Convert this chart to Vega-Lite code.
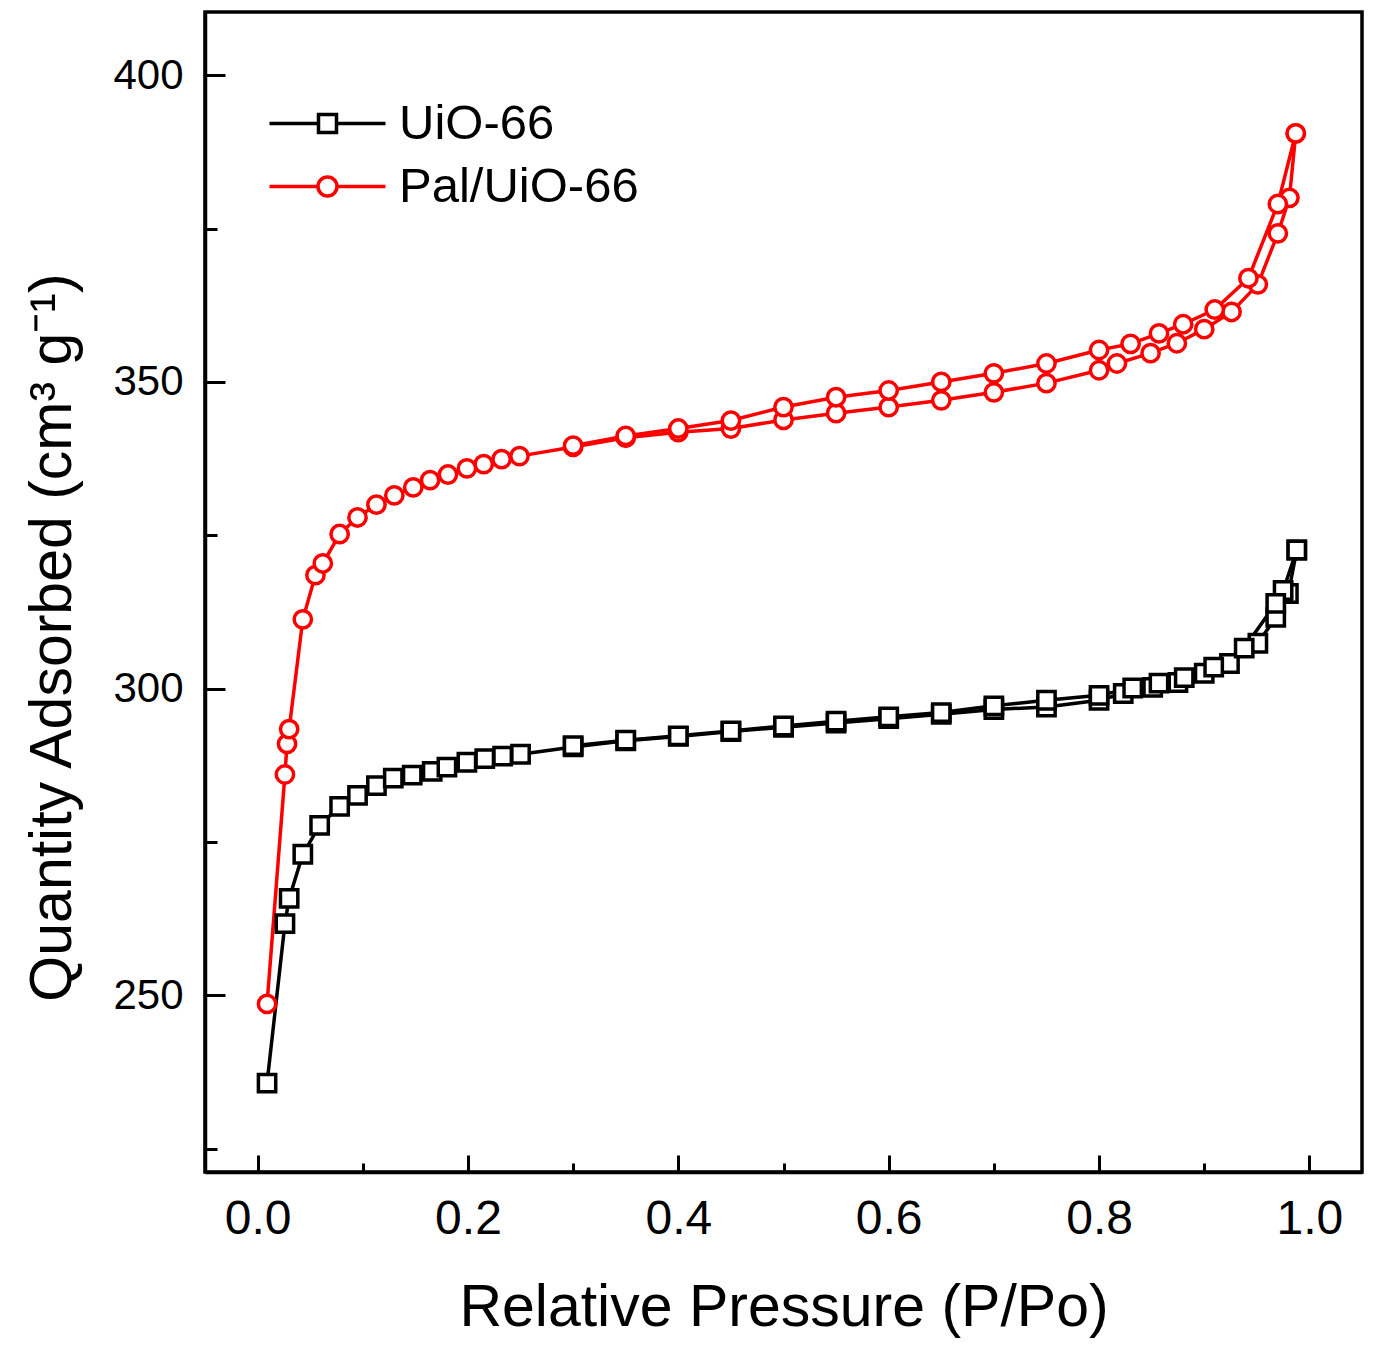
{
  "$schema": "https://vega.github.io/schema/vega-lite/v6.json",
  "width": 1157,
  "height": 1160,
  "autosize": {"type": "none"},
  "padding": {"left": 205, "top": 12, "right": 16, "bottom": 175},
  "background": "white",
  "config": {
    "font": "Liberation Sans",
    "view": {"stroke": "black", "strokeWidth": 3.5},
    "axis": {
      "grid": false,
      "domainColor": "black",
      "domainWidth": 3.5,
      "tickColor": "black",
      "tickWidth": 3,
      "labelColor": "black",
      "titleColor": "black",
      "labelFont": "Liberation Sans",
      "titleFont": "Liberation Sans",
      "titleFontWeight": "normal"
    }
  },
  "data": {
    "values": [
      {"sample": "UiO-66", "branch": "ads", "p": 0.009, "q": 235.7},
      {"sample": "UiO-66", "branch": "ads", "p": 0.026, "q": 261.7},
      {"sample": "UiO-66", "branch": "ads", "p": 0.030, "q": 265.8},
      {"sample": "UiO-66", "branch": "ads", "p": 0.043, "q": 273.0},
      {"sample": "UiO-66", "branch": "ads", "p": 0.059, "q": 277.7},
      {"sample": "UiO-66", "branch": "ads", "p": 0.078, "q": 280.8},
      {"sample": "UiO-66", "branch": "ads", "p": 0.095, "q": 282.6},
      {"sample": "UiO-66", "branch": "ads", "p": 0.113, "q": 284.2},
      {"sample": "UiO-66", "branch": "ads", "p": 0.129, "q": 285.4},
      {"sample": "UiO-66", "branch": "ads", "p": 0.147, "q": 285.9},
      {"sample": "UiO-66", "branch": "ads", "p": 0.166, "q": 286.5},
      {"sample": "UiO-66", "branch": "ads", "p": 0.180, "q": 287.2},
      {"sample": "UiO-66", "branch": "ads", "p": 0.199, "q": 288.0},
      {"sample": "UiO-66", "branch": "ads", "p": 0.216, "q": 288.6},
      {"sample": "UiO-66", "branch": "ads", "p": 0.233, "q": 289.0},
      {"sample": "UiO-66", "branch": "ads", "p": 0.250, "q": 289.3},
      {"sample": "UiO-66", "branch": "ads", "p": 0.300, "q": 290.5},
      {"sample": "UiO-66", "branch": "ads", "p": 0.350, "q": 291.5},
      {"sample": "UiO-66", "branch": "ads", "p": 0.400, "q": 292.2},
      {"sample": "UiO-66", "branch": "ads", "p": 0.450, "q": 293.0},
      {"sample": "UiO-66", "branch": "ads", "p": 0.500, "q": 293.7},
      {"sample": "UiO-66", "branch": "ads", "p": 0.550, "q": 294.4},
      {"sample": "UiO-66", "branch": "ads", "p": 0.600, "q": 295.1},
      {"sample": "UiO-66", "branch": "ads", "p": 0.650, "q": 295.8},
      {"sample": "UiO-66", "branch": "ads", "p": 0.700, "q": 296.6},
      {"sample": "UiO-66", "branch": "ads", "p": 0.750, "q": 297.0},
      {"sample": "UiO-66", "branch": "ads", "p": 0.800, "q": 298.1},
      {"sample": "UiO-66", "branch": "ads", "p": 0.823, "q": 299.2},
      {"sample": "UiO-66", "branch": "ads", "p": 0.851, "q": 300.2},
      {"sample": "UiO-66", "branch": "ads", "p": 0.875, "q": 301.0},
      {"sample": "UiO-66", "branch": "ads", "p": 0.900, "q": 302.5},
      {"sample": "UiO-66", "branch": "ads", "p": 0.924, "q": 304.1},
      {"sample": "UiO-66", "branch": "ads", "p": 0.951, "q": 307.4},
      {"sample": "UiO-66", "branch": "ads", "p": 0.968, "q": 311.6},
      {"sample": "UiO-66", "branch": "ads", "p": 0.980, "q": 315.5},
      {"sample": "UiO-66", "branch": "ads", "p": 0.988, "q": 322.6},
      {"sample": "UiO-66", "branch": "des", "p": 0.988, "q": 322.6},
      {"sample": "UiO-66", "branch": "des", "p": 0.975, "q": 316.0},
      {"sample": "UiO-66", "branch": "des", "p": 0.968, "q": 313.9},
      {"sample": "UiO-66", "branch": "des", "p": 0.938, "q": 306.6},
      {"sample": "UiO-66", "branch": "des", "p": 0.909, "q": 303.5},
      {"sample": "UiO-66", "branch": "des", "p": 0.881, "q": 301.8},
      {"sample": "UiO-66", "branch": "des", "p": 0.857, "q": 300.9},
      {"sample": "UiO-66", "branch": "des", "p": 0.832, "q": 300.1},
      {"sample": "UiO-66", "branch": "des", "p": 0.800, "q": 298.9},
      {"sample": "UiO-66", "branch": "des", "p": 0.750, "q": 298.1},
      {"sample": "UiO-66", "branch": "des", "p": 0.700, "q": 297.2},
      {"sample": "UiO-66", "branch": "des", "p": 0.650, "q": 296.1},
      {"sample": "UiO-66", "branch": "des", "p": 0.600, "q": 295.4},
      {"sample": "UiO-66", "branch": "des", "p": 0.550, "q": 294.7},
      {"sample": "UiO-66", "branch": "des", "p": 0.500, "q": 293.9},
      {"sample": "UiO-66", "branch": "des", "p": 0.450, "q": 293.1},
      {"sample": "UiO-66", "branch": "des", "p": 0.400, "q": 292.3},
      {"sample": "UiO-66", "branch": "des", "p": 0.350, "q": 291.6},
      {"sample": "UiO-66", "branch": "des", "p": 0.300, "q": 290.7},
      {"sample": "Pal/UiO-66", "branch": "ads", "p": 0.009, "q": 248.6},
      {"sample": "Pal/UiO-66", "branch": "ads", "p": 0.026, "q": 286.0},
      {"sample": "Pal/UiO-66", "branch": "ads", "p": 0.028, "q": 291.0},
      {"sample": "Pal/UiO-66", "branch": "ads", "p": 0.030, "q": 293.4},
      {"sample": "Pal/UiO-66", "branch": "ads", "p": 0.043, "q": 311.3},
      {"sample": "Pal/UiO-66", "branch": "ads", "p": 0.055, "q": 318.5},
      {"sample": "Pal/UiO-66", "branch": "ads", "p": 0.062, "q": 320.4},
      {"sample": "Pal/UiO-66", "branch": "ads", "p": 0.078, "q": 325.2},
      {"sample": "Pal/UiO-66", "branch": "ads", "p": 0.095, "q": 327.9},
      {"sample": "Pal/UiO-66", "branch": "ads", "p": 0.113, "q": 330.0},
      {"sample": "Pal/UiO-66", "branch": "ads", "p": 0.130, "q": 331.5},
      {"sample": "Pal/UiO-66", "branch": "ads", "p": 0.148, "q": 332.8},
      {"sample": "Pal/UiO-66", "branch": "ads", "p": 0.164, "q": 334.0},
      {"sample": "Pal/UiO-66", "branch": "ads", "p": 0.181, "q": 334.9},
      {"sample": "Pal/UiO-66", "branch": "ads", "p": 0.199, "q": 335.9},
      {"sample": "Pal/UiO-66", "branch": "ads", "p": 0.215, "q": 336.6},
      {"sample": "Pal/UiO-66", "branch": "ads", "p": 0.232, "q": 337.4},
      {"sample": "Pal/UiO-66", "branch": "ads", "p": 0.249, "q": 337.9},
      {"sample": "Pal/UiO-66", "branch": "ads", "p": 0.300, "q": 339.4},
      {"sample": "Pal/UiO-66", "branch": "ads", "p": 0.350, "q": 340.9},
      {"sample": "Pal/UiO-66", "branch": "ads", "p": 0.400, "q": 341.8},
      {"sample": "Pal/UiO-66", "branch": "ads", "p": 0.450, "q": 342.4},
      {"sample": "Pal/UiO-66", "branch": "ads", "p": 0.500, "q": 343.8},
      {"sample": "Pal/UiO-66", "branch": "ads", "p": 0.550, "q": 344.9},
      {"sample": "Pal/UiO-66", "branch": "ads", "p": 0.600, "q": 345.9},
      {"sample": "Pal/UiO-66", "branch": "ads", "p": 0.650, "q": 347.0},
      {"sample": "Pal/UiO-66", "branch": "ads", "p": 0.700, "q": 348.3},
      {"sample": "Pal/UiO-66", "branch": "ads", "p": 0.750, "q": 349.8},
      {"sample": "Pal/UiO-66", "branch": "ads", "p": 0.800, "q": 351.9},
      {"sample": "Pal/UiO-66", "branch": "ads", "p": 0.817, "q": 353.0},
      {"sample": "Pal/UiO-66", "branch": "ads", "p": 0.849, "q": 354.7},
      {"sample": "Pal/UiO-66", "branch": "ads", "p": 0.874, "q": 356.3},
      {"sample": "Pal/UiO-66", "branch": "ads", "p": 0.900, "q": 358.6},
      {"sample": "Pal/UiO-66", "branch": "ads", "p": 0.926, "q": 361.4},
      {"sample": "Pal/UiO-66", "branch": "ads", "p": 0.951, "q": 365.9},
      {"sample": "Pal/UiO-66", "branch": "ads", "p": 0.970, "q": 374.2},
      {"sample": "Pal/UiO-66", "branch": "ads", "p": 0.981, "q": 380.0},
      {"sample": "Pal/UiO-66", "branch": "ads", "p": 0.987, "q": 390.5},
      {"sample": "Pal/UiO-66", "branch": "des", "p": 0.987, "q": 390.5},
      {"sample": "Pal/UiO-66", "branch": "des", "p": 0.970, "q": 379.0},
      {"sample": "Pal/UiO-66", "branch": "des", "p": 0.942, "q": 366.9},
      {"sample": "Pal/UiO-66", "branch": "des", "p": 0.910, "q": 361.8},
      {"sample": "Pal/UiO-66", "branch": "des", "p": 0.880, "q": 359.4},
      {"sample": "Pal/UiO-66", "branch": "des", "p": 0.857, "q": 357.9},
      {"sample": "Pal/UiO-66", "branch": "des", "p": 0.830, "q": 356.2},
      {"sample": "Pal/UiO-66", "branch": "des", "p": 0.800, "q": 355.2},
      {"sample": "Pal/UiO-66", "branch": "des", "p": 0.750, "q": 353.0},
      {"sample": "Pal/UiO-66", "branch": "des", "p": 0.700, "q": 351.4},
      {"sample": "Pal/UiO-66", "branch": "des", "p": 0.650, "q": 350.0},
      {"sample": "Pal/UiO-66", "branch": "des", "p": 0.600, "q": 348.6},
      {"sample": "Pal/UiO-66", "branch": "des", "p": 0.550, "q": 347.5},
      {"sample": "Pal/UiO-66", "branch": "des", "p": 0.500, "q": 345.9},
      {"sample": "Pal/UiO-66", "branch": "des", "p": 0.450, "q": 343.7},
      {"sample": "Pal/UiO-66", "branch": "des", "p": 0.400, "q": 342.4},
      {"sample": "Pal/UiO-66", "branch": "des", "p": 0.350, "q": 341.2},
      {"sample": "Pal/UiO-66", "branch": "des", "p": 0.300, "q": 339.6}
    ]
  },
  "layer": [
    {
      "mark": {"type": "line", "strokeWidth": 3.5},
      "encoding": {
        "x": {
          "field": "p",
          "type": "quantitative",
          "scale": {"domain": [-0.05, 1.05], "nice": false, "zero": false},
          "axis": {
            "values": [0, 0.2, 0.4, 0.6, 0.8, 1.0],
            "format": ".1f",
            "tickSize": -17,
            "labelFontSize": 48,
            "labelPadding": 40,
            "title": "Relative Pressure (P/Po)",
            "titleFontSize": 59,
            "titleY": 153,
            "titleBaseline": "alphabetic"
          }
        },
        "y": {
          "field": "q",
          "type": "quantitative",
          "scale": {"domain": [221.2, 410.3], "nice": false, "zero": false},
          "axis": {
            "values": [250, 300, 350, 400],
            "tickSize": -20,
            "labelFontSize": 42,
            "labelPadding": 42,
            "title": "Quantity Adsorbed (cm³ g⁻¹)",
            "titleFontSize": 59,
            "titleX": -135,
            "titleY": 625,
            "titleBaseline": "alphabetic"
          }
        },
        "stroke": {
          "field": "sample",
          "type": "nominal",
          "scale": {"domain": ["UiO-66", "Pal/UiO-66"], "range": ["black", "#ff0000"]},
          "legend": {
            "orient": "none",
            "legendX": 98,
            "legendY": 87,
            "title": null,
            "padding": 0,
            "symbolSize": 400,
            "symbolStrokeWidth": 3.5,
            "labelFontSize": 49,
            "labelFont": "Liberation Sans",
            "labelColor": "black",
            "labelOffset": 47,
            "labelLimit": 0,
            "rowPadding": 13,
            "encode": {
              "symbols": {
                "update": {
                  "shape": {"signal": "datum.value === 'UiO-66' ? 'M-5.8,0H-0.9M0.9,0H5.8M-0.9,-0.9H0.9V0.9H-0.9Z' : 'M-5.8,0H-0.95M0.95,0H5.8M-0.95,0A0.95,0.95,0,1,0,0.95,0A0.95,0.95,0,1,0,-0.95,0Z'"},
                  "fill": {"value": "white"},
                  "fillOpacity": {"value": 1},
                  "strokeWidth": {"value": 3.5}
                }
              }
            }
          }
        },
        "detail": {"field": "branch", "type": "nominal"}
      }
    },
    {
      "transform": [{"filter": "datum.sample === 'UiO-66'"}],
      "mark": {"type": "point", "shape": "square", "size": 300, "strokeWidth": 3.5, "fill": "white", "fillOpacity": 1, "opacity": 1},
      "encoding": {
        "x": {
          "field": "p",
          "type": "quantitative",
          "axis": {
            "orient": "bottom",
            "values": [0.1, 0.3, 0.5, 0.7, 0.9],
            "tickSize": -9,
            "labels": false,
            "domain": false,
            "title": null
          }
        },
        "y": {
          "field": "q",
          "type": "quantitative",
          "axis": {
            "orient": "left",
            "values": [225, 275, 325, 375],
            "tickSize": -12,
            "labels": false,
            "domain": false,
            "title": null
          }
        },
        "stroke": {"field": "sample", "type": "nominal", "legend": null}
      }
    },
    {
      "transform": [{"filter": "datum.sample === 'Pal/UiO-66'"}],
      "mark": {"type": "point", "shape": "circle", "size": 300, "strokeWidth": 3.5, "fill": "white", "fillOpacity": 1, "opacity": 1},
      "encoding": {
        "x": {"field": "p", "type": "quantitative", "axis": null},
        "y": {"field": "q", "type": "quantitative", "axis": null},
        "stroke": {"field": "sample", "type": "nominal", "legend": null}
      }
    }
  ],
  "resolve": {"axis": {"x": "independent", "y": "independent"}}
}
